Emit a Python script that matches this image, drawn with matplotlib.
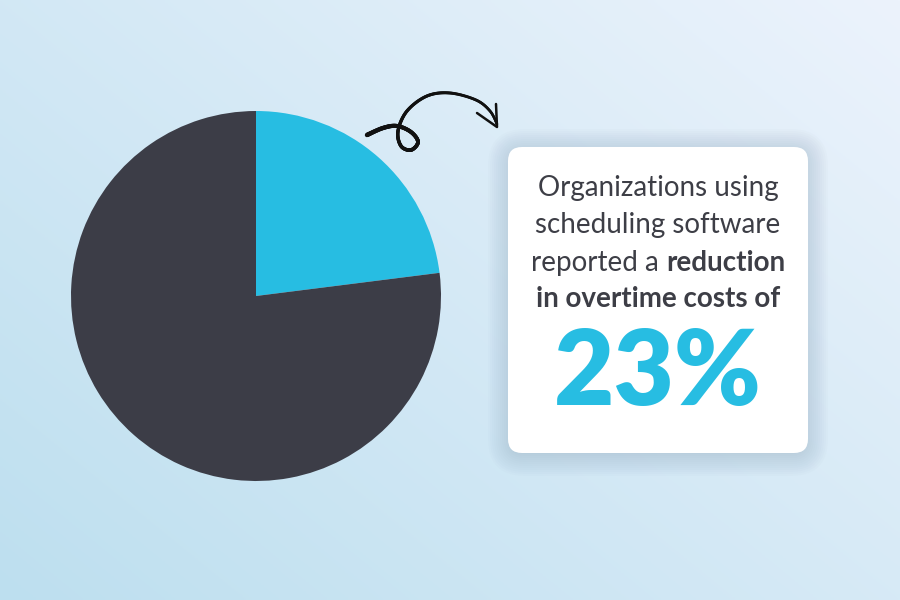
import numpy as np
import matplotlib
matplotlib.use("Agg")
import matplotlib.pyplot as plt
from matplotlib.patches import FancyBboxPatch

# data
labels = ["Reduction in overtime costs", "Rest"]
shares = [23, 77]
colors = ["#27bde2", "#3c3d47"]
headline = "23%"
lines_regular = ["Organizations using", "scheduling software"]
line3 = ("reported a ", "reduction")
line4 = "in overtime costs of"

W, H = 900, 600
fig = plt.figure(figsize=(W / 100, H / 100), dpi=100)

# background gradient, pixel coords with y going down
bg = fig.add_axes([0, 0, 1, 1])
bg.set_xlim(0, W)
bg.set_ylim(H, 0)
bg.axis("off")
xx, yy = np.meshgrid(np.linspace(0, 1, 300), np.linspace(0, 1, 200))
t = np.clip(0.55 * xx + 0.45 * (1 - yy), 0, 1)
c0 = np.array([0xbd, 0xdf, 0xef]) / 255
c1 = np.array([0xec, 0xf3, 0xfc]) / 255
img = c0[None, None, :] * (1 - t[..., None]) + c1[None, None, :] * t[..., None]
bg.imshow(img, extent=[0, W, H, 0], aspect="auto", zorder=0)

# card shadow + card
cx0, cy0, cw, ch = 508, 147, 300, 306
for i in range(12):
    pad = 1 + i * 2.0
    bg.add_patch(FancyBboxPatch((cx0 - pad + 3, cy0 - pad + 5), cw + 2 * pad - 6, ch + 2 * pad - 5,
                                boxstyle="round,pad=0,rounding_size=%g" % (14 + pad),
                                fc="#8aa2b6", ec="none", alpha=0.03, zorder=1))
bg.add_patch(FancyBboxPatch((cx0, cy0), cw, ch, boxstyle="round,pad=0,rounding_size=14",
                            fc="white", ec="none", zorder=2))

fam = ["Lato", "DejaVu Sans"]
tc = "#3d3e46"
tx = cx0 + cw / 2
bg.text(tx, 188, lines_regular[0], ha="center", va="center", fontsize=20,
        family=fam, weight="normal", color=tc, zorder=3)
bg.text(tx, 225, lines_regular[1], ha="center", va="center", fontsize=20,
        family=fam, weight="normal", color=tc, zorder=3)
# mixed-weight line
t1 = bg.text(0, 263, line3[0], ha="left", va="center", fontsize=20,
             family=fam, weight="normal", color=tc, zorder=3)
t2 = bg.text(0, 263, line3[1], ha="left", va="center", fontsize=20,
             family=fam, weight="bold", color=tc, zorder=3)
fig.canvas.draw()
r = fig.canvas.get_renderer()
w1 = t1.get_window_extent(r).width
w2 = t2.get_window_extent(r).width
start = tx - (w1 + w2) / 2
t1.set_x(start)
t2.set_x(start + w1)
bg.text(tx, 299, line4, ha="center", va="center", fontsize=20,
        family=fam, weight="bold", color=tc, zorder=3)
bg.text(tx, 375, headline, ha="center", va="center", fontsize=75,
        family=fam, weight="heavy", color=colors[0], zorder=3)

# hand-drawn arrow
pts = np.array([(367, 135), (383, 128), (397, 126), (411, 132), (418, 142), (411, 150),
                (401, 146), (398, 131), (407, 111), (427, 96), (450, 93), (476, 100),
                (490, 111), (497, 124)], float)
def catmull(p, n=20):
    p = np.vstack([p[0], p, p[-1]])
    out = []
    for i in range(1, len(p) - 2):
        p0, p1, p2, p3 = p[i - 1], p[i], p[i + 1], p[i + 2]
        s = np.linspace(0, 1, n)[:, None]
        out.append(0.5 * ((2 * p1) + (-p0 + p2) * s + (2 * p0 - 5 * p1 + 4 * p2 - p3) * s ** 2
                          + (-p0 + 3 * p1 - 3 * p2 + p3) * s ** 3))
    return np.vstack(out)
curve = catmull(pts)
lw = np.linspace(3.2, 1.8, len(curve))
for i in range(len(curve) - 1):
    bg.plot(curve[i:i + 2, 0], curve[i:i + 2, 1], color="#111111", lw=lw[i],
            solid_capstyle="round", zorder=3)
bg.plot([477, 497, 496], [113, 127, 104], color="#111111", lw=1.8,
        solid_capstyle="round", solid_joinstyle="round", zorder=3)

# pie
ax = fig.add_axes([71 / W, (H - 481) / H, 370 / W, 370 / H])
ax.pie(shares, colors=colors, startangle=90, counterclock=False,
       wedgeprops=dict(linewidth=0))
ax.set_xlim(-1, 1)
ax.set_ylim(-1, 1)
ax.set_aspect("equal")
ax.set_zorder(2)

fig.savefig("out.png", dpi=100)
